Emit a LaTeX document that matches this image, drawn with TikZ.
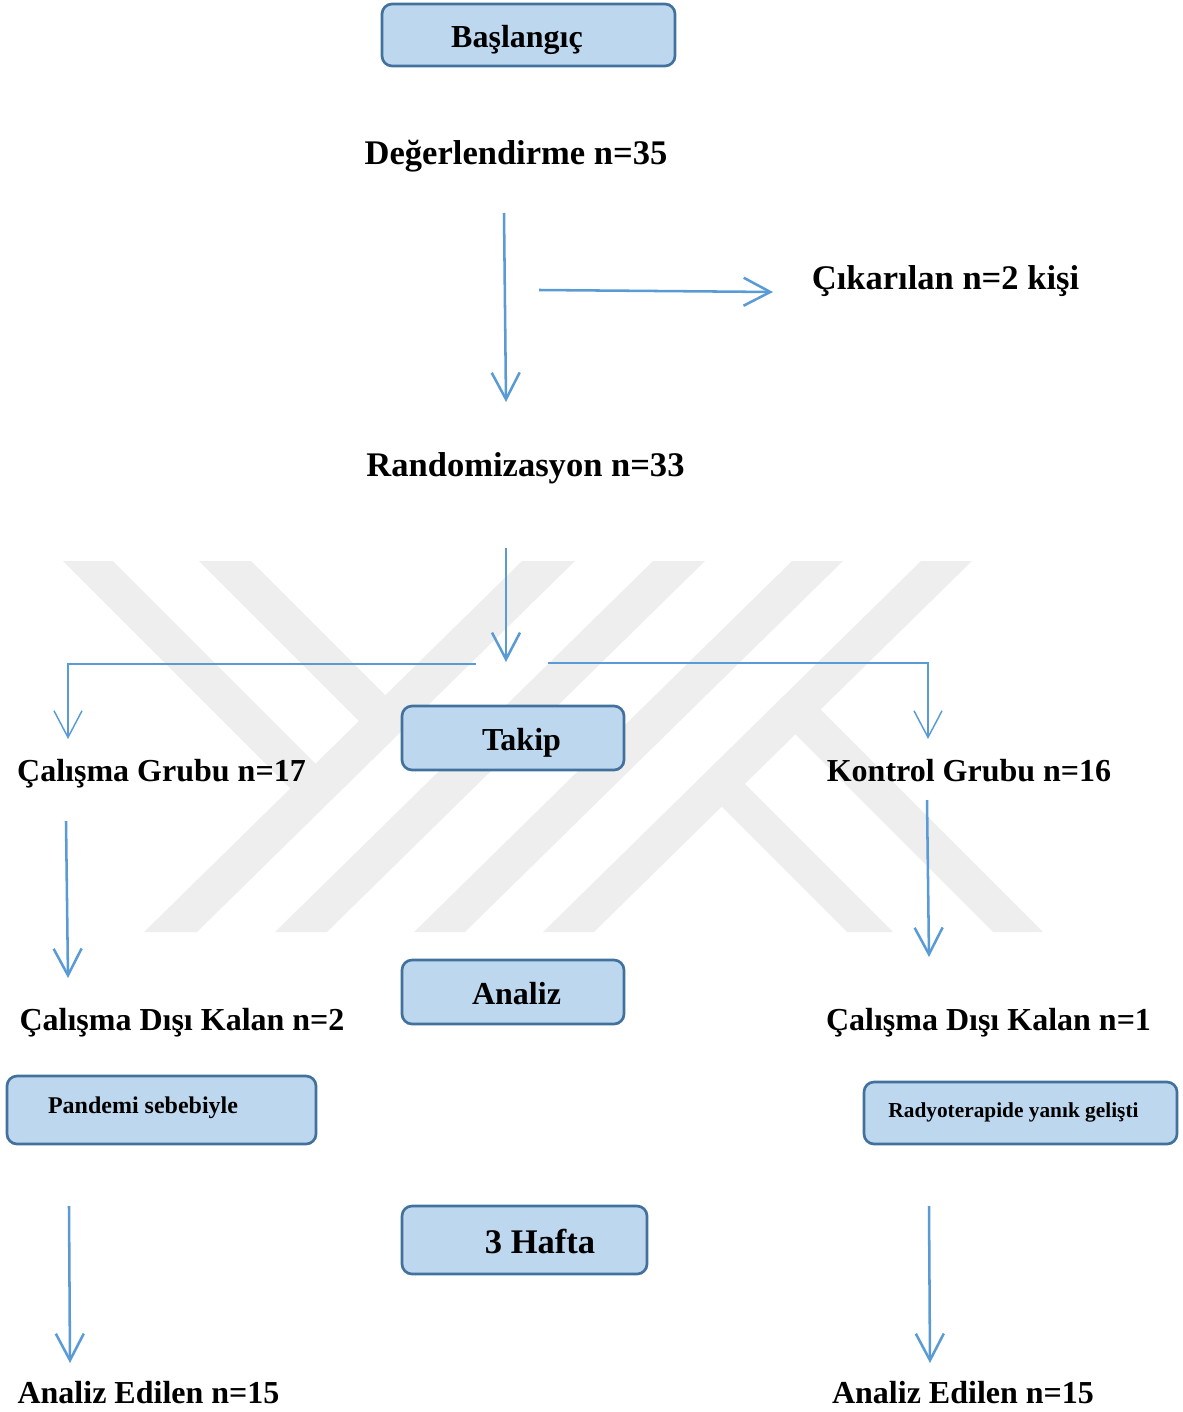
\documentclass[tikz,border=0pt]{standalone}
\usepackage{fontspec}
\setmainfont{Liberation Serif}
\usetikzlibrary{arrows.meta}

\definecolor{boxfill}{RGB}{189,215,238}
\definecolor{boxline}{RGB}{65,113,156}
\definecolor{flowblue}{RGB}{91,155,213}
\definecolor{wmark}{RGB}{238,238,238}

\begin{document}
\begin{tikzpicture}[x=0.75pt,y=0.75pt,yscale=-1,xscale=1,
  stagebox/.style={draw=boxline,fill=boxfill,line width=2pt,rounded corners=7.5pt,inner sep=0pt},
  lbl/.style={anchor=base,inner sep=0pt,font=\bfseries\fontsize{24}{28}\selectfont},
  biglbl/.style={lbl,font=\bfseries\fontsize{25.9}{30}\selectfont},
  smalllbl/.style={lbl,font=\bfseries\fontsize{18}{22}\selectfont},
  tinylbl/.style={lbl,font=\bfseries\fontsize{16}{20}\selectfont},
  barb/.style={-{Straight Barb[length=20pt,width=21pt]}},
  flow/.style={draw=flowblue,line width=1.9pt,barb},
  branch/.style={draw=flowblue,line width=1.1pt,barb}]
\useasboundingbox (0,0) rectangle (1182,1412);

%Shape: watermark stripes
\fill[wmark] (63,561) -- (113,561) -- (328.7,776.7) -- (303.5,801.5) -- cycle ;
\fill[wmark] (199,561) -- (251,561) -- (398.4,708.4) -- (372.1,734.1) -- cycle ;
\fill[wmark] (522,561) -- (575,561) -- (197,932) -- (144,932) -- cycle ;
\fill[wmark] (653,561) -- (705,561) -- (327,932) -- (275,932) -- cycle ;
\fill[wmark] (792,561) -- (843,561) -- (465,932) -- (414,932) -- cycle ;
\fill[wmark] (921,561) -- (972,561) -- (594,932) -- (543,932) -- cycle ;
\fill[wmark] (808,697) -- (1043,932) -- (993,932) -- (782.7,721.7) -- cycle ;
\fill[wmark] (732.2,771.2) -- (893,932) -- (847,932) -- (709,794) -- cycle ;

%Shape: Rounded Rect
\node[stagebox,minimum width=219.75pt,minimum height=46.5pt] (start) at (528.5,35) {};
\node[stagebox,minimum width=166.5pt,minimum height=48pt] (takip) at (513,738) {};
\node[stagebox,minimum width=166.5pt,minimum height=48pt] (analiz) at (513,992) {};
\node[stagebox,minimum width=183.75pt,minimum height=51pt] (hafta) at (524.5,1240) {};
\node[stagebox,minimum width=231.75pt,minimum height=51pt] (pand) at (161.5,1110) {};
\node[stagebox,minimum width=234.75pt,minimum height=46.5pt] (rad) at (1020.5,1113) {};

% Text Node
\node[lbl] (startlbl) at (517,48) {Başlangıç};
\node[biglbl] (assess) at (516,165) {Değerlendirme n=35};
\node[biglbl] (excl) at (945.5,290) {Çıkarılan n=2 kişi};
\node[biglbl] (rand) at (525.5,476) {Randomizasyon n=33};
\node[lbl] (takiplbl) at (521.5,750) {Takip};
\node[lbl] (studygrp) at (161.5,781) {Çalışma Grubu n=17};
\node[lbl] (ctrlgrp) at (969,781) {Kontrol Grubu n=16};
\node[lbl] (analizlbl) at (516.5,1004) {Analiz};
\node[lbl] (studyout) at (182,1030) {Çalışma Dışı Kalan n=2};
\node[lbl] (ctrlout) at (988.5,1030) {Çalışma Dışı Kalan n=1};
\node[smalllbl] (pandlbl) at (143,1113) {Pandemi sebebiyle};
\node[tinylbl] (radlbl) at (1013.5,1117) {Radyoterapide yanık gelişti};
\node[biglbl] (haftalbl) at (540,1253) {3 Hafta};
\node[lbl] (studyfin) at (148.5,1403) {Analiz Edilen n=15};
\node[lbl] (ctrlfin) at (963,1403) {Analiz Edilen n=15};

% arrow ends
\coordinate (a1) at (504,213); \coordinate (a2) at (506,402);
\coordinate (b1) at (539,290); \coordinate (b2) at (773,292);
\coordinate (c1) at (506,548); \coordinate (c2) at (506,662);
\coordinate (l1) at (476,664); \coordinate (l2) at (68,664); \coordinate (l3) at (68,739);
\coordinate (r1) at (548,663); \coordinate (r2) at (928,663); \coordinate (r3) at (928,739);
\coordinate (d1) at (66,821); \coordinate (d2) at (68,978);
\coordinate (e1) at (927,800); \coordinate (e2) at (929,957);
\coordinate (f1) at (69,1206); \coordinate (f2) at (70,1363);
\coordinate (g1) at (929,1206); \coordinate (g2) at (930,1363);

%Straight Lines
\draw[flow] (a1) -- (a2) ;
\draw[flow] (b1) -- (b2) ;
\draw[flow] (c1) -- (c2) ;
\draw[branch] (l1) -- (l2) -- (l3) ;
\draw[branch] (r1) -- (r2) -- (r3) ;
\draw[flow] (d1) -- (d2) ;
\draw[flow] (e1) -- (e2) ;
\draw[flow] (f1) -- (f2) ;
\draw[flow] (g1) -- (g2) ;

\end{tikzpicture}
\end{document}
